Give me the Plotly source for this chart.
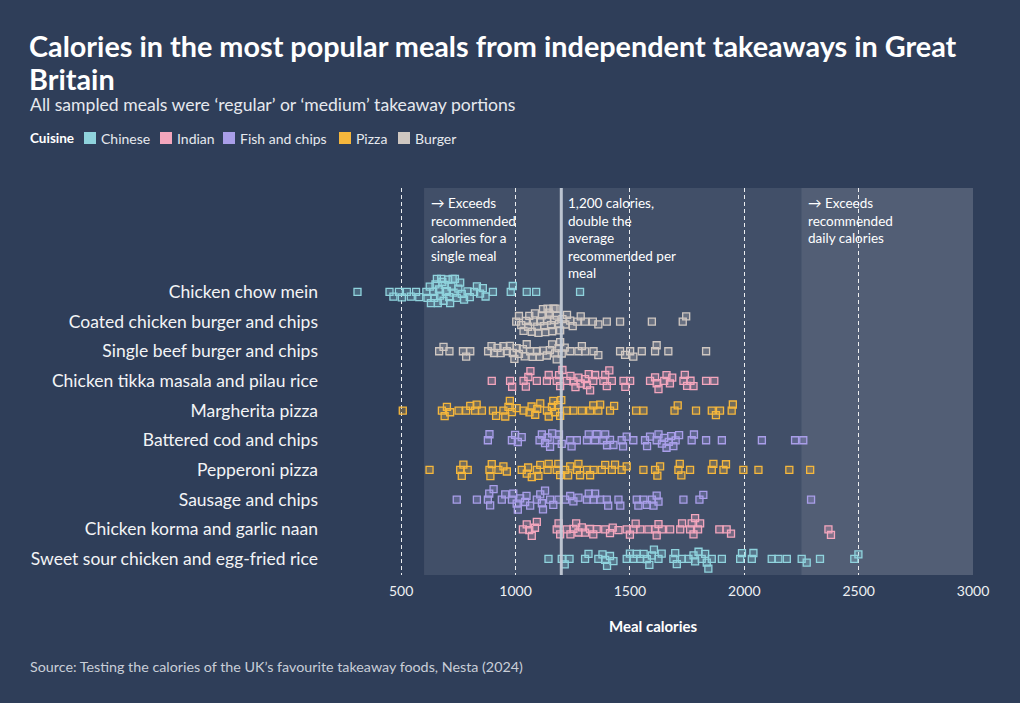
import math
import plotly.graph_objects as go

# ---------------- data ----------------
meals = [
    "Chicken chow mein",
    "Coated chicken burger and chips",
    "Single beef burger and chips",
    "Chicken tikka masala and pilau rice",
    "Margherita pizza",
    "Battered cod and chips",
    "Pepperoni pizza",
    "Sausage and chips",
    "Chicken korma and garlic naan",
    "Sweet sour chicken and egg-fried rice",
]
meal_cuisine = ["Chinese", "Burger", "Burger", "Indian", "Pizza",
                "Fish and chips", "Pizza", "Fish and chips", "Indian", "Chinese"]

cuisines = ["Chinese", "Indian", "Fish and chips", "Pizza", "Burger"]
cuisine_colors = ["#8fd3dd", "#f4a6bd", "#a99ee9", "#f6b73c", "#cfc7c1"]

chow_mein = [309, 449, 466, 490, 503, 525, 542, 565, 579, 610, 615, 625, 630, 640, 645, 650, 656,
             660, 665, 670, 675, 680, 685, 690, 695, 700, 705, 710, 714, 720, 725, 729, 735, 743,
             750, 758, 765, 775, 790, 800, 819, 831, 845, 857, 869, 901, 979, 988, 1049, 1090, 1282]
coated_burger = [1003, 1015, 1025, 1035, 1045, 1055, 1060, 1071, 1080, 1085, 1095, 1100, 1108,
                 1115, 1120, 1125, 1130, 1137, 1140, 1145, 1150, 1155, 1160, 1166, 1170, 1175,
                 1180, 1190, 1195, 1205, 1218, 1225, 1239, 1250, 1270, 1285, 1304, 1338, 1362,
                 1399, 1457, 1596, 1731, 1746]
beef_burger = [666, 685, 711, 770, 784, 802, 880, 895, 906, 921, 935, 947, 962, 975, 988, 995,
               1005, 1015, 1032, 1040, 1049, 1064, 1075, 1093, 1105, 1120, 1137, 1150, 1160, 1173,
               1180, 1188, 1195, 1202, 1215, 1239, 1275, 1290, 1304, 1341, 1362, 1457, 1479, 1501,
               1515, 1552, 1610, 1617, 1668, 1833]
tikka_masala = [896, 976, 985, 1035, 1045, 1056, 1065, 1093, 1137, 1145, 1180, 1190, 1195, 1205,
                1224, 1240, 1253, 1262, 1275, 1285, 1304, 1312, 1320, 1326, 1340, 1348, 1384,
                1392, 1399, 1410, 1421, 1472, 1480, 1501, 1588, 1610, 1617, 1625, 1650, 1660,
                1675, 1685, 1734, 1740, 1750, 1765, 1778, 1833, 1869]
margherita = [507, 678, 690, 700, 714, 751, 784, 802, 823, 830, 853, 901, 915, 947, 955, 969, 975,
              984, 1005, 1035, 1061, 1070, 1086, 1095, 1108, 1137, 1145, 1159, 1165, 1173, 1185,
              1195, 1200, 1224, 1253, 1290, 1326, 1340, 1362, 1370, 1413, 1431, 1527, 1559, 1695,
              1709, 1789, 1858, 1876, 1894, 1945, 1950]
cod_chips = [879, 886, 984, 998, 1010, 1027, 1105, 1115, 1129, 1140, 1151, 1160, 1180, 1190, 1202,
             1239, 1245, 1268, 1312, 1320, 1348, 1355, 1384, 1392, 1400, 1413, 1428, 1464, 1470,
             1486, 1515, 1566, 1575, 1588, 1617, 1625, 1640, 1650, 1660, 1670, 1680, 1690, 1700,
             1715, 1770, 1780, 1833, 1902, 2077, 2222, 2258]
pepperoni = [624, 758, 765, 772, 791, 886, 890, 896, 925, 947, 962, 1027, 1049, 1055, 1071, 1093,
             1100, 1108, 1140, 1145, 1180, 1187, 1195, 1217, 1230, 1239, 1268, 1275, 1282, 1312,
             1326, 1341, 1377, 1392, 1421, 1435, 1464, 1486, 1559, 1610, 1620, 1632, 1712, 1718,
             1725, 1763, 1858, 1865, 1909, 1920, 1996, 2062, 2197, 2288]
sausage_chips = [743, 831, 879, 885, 889, 904, 940, 955, 984, 990, 1005, 1010, 1020, 1042, 1048,
                 1064, 1093, 1108, 1115, 1120, 1129, 1151, 1165, 1188, 1217, 1239, 1253, 1275,
                 1312, 1320, 1341, 1348, 1370, 1399, 1405, 1450, 1458, 1530, 1537, 1559, 1574,
                 1596, 1603, 1617, 1625, 1734, 1804, 1821, 2292]
korma_naan = [1032, 1049, 1060, 1071, 1085, 1093, 1180, 1188, 1195, 1224, 1240, 1253, 1265, 1275,
              1290, 1304, 1326, 1340, 1355, 1392, 1413, 1425, 1450, 1486, 1500, 1515, 1525, 1545,
              1581, 1610, 1617, 1625, 1640, 1676, 1720, 1728, 1763, 1770, 1778, 1785, 1798, 1807,
              1891, 1923, 1942, 2368, 2379]
sweet_sour = [1144, 1202, 1215, 1236, 1304, 1319, 1362, 1380, 1392, 1400, 1413, 1428, 1486, 1500,
              1515, 1530, 1545, 1560, 1574, 1585, 1596, 1605, 1625, 1639, 1690, 1698, 1705, 1727,
              1756, 1778, 1785, 1800, 1814, 1829, 1836, 1843, 1858, 1902, 1982, 1990, 2033, 2040,
              2120, 2149, 2186, 2251, 2273, 2331, 2481, 2499]

meal_values = [chow_mein, coated_burger, beef_burger, tikka_masala, margherita,
               cod_chips, pepperoni, sausage_chips, korma_naan, sweet_sour]

x_ticks = [500, 1000, 1500, 2000, 2500, 3000]

title_lines = ["Calories in the most popular meals from independent takeaways in Great", "Britain"]
subtitle = "All sampled meals were ‘regular’ or ‘medium’ takeaway portions"
source = "Source: Testing the calories of the UK’s favourite takeaway foods, Nesta (2024)"

# ---------------- layout geometry ----------------
W, H = 1020, 703
ML, MR, MT, MB = 344, 47, 188, 128
X_RANGE = [250, 3000]
Y_RANGE = [9.54, -3.5]
plot_w = W - ML - MR
plot_h = H - MT - MB
px_per_cal = plot_w / (X_RANGE[1] - X_RANGE[0])
px_per_row = plot_h / (Y_RANGE[0] - Y_RANGE[1])


def swarm_offsets(vals, d=6.2, ymax=13.0):
    """Circle-packing beeswarm: vertical offsets (row units) for each value."""
    order = sorted(range(len(vals)), key=lambda i: vals[i])
    placed = []
    offs = [0.0] * len(vals)
    for n, i in enumerate(order):
        xp = vals[i] * px_per_cal
        near = [(a, b) for (a, b) in placed if abs(xp - a) < d]
        cands = [0.0]
        for (a, b) in near:
            h = math.sqrt(d * d - (xp - a) ** 2)
            cands += [b + h, b - h]
        cands.sort(key=lambda y: (abs(y), y if n % 2 else -y))
        chosen = None
        for y in cands:
            if abs(y) > ymax:
                continue
            if all((xp - a) ** 2 + (y - b) ** 2 >= d * d - 1e-6 for (a, b) in near):
                chosen = y
                break
        if chosen is None:
            best = None
            for k in range(-int(ymax), int(ymax) + 1):
                c = sum(1 for (a, b) in near if (xp - a) ** 2 + (k - b) ** 2 < d * d)
                if best is None or c < best[0]:
                    best = (c, k)
            chosen = float(best[1])
        placed.append((xp, chosen))
        offs[i] = chosen / px_per_row
    return offs


BG = "#2f3e59"
fig = go.Figure()


def rgba(hexc, a):
    h = hexc.lstrip("#")
    return "rgba(%d,%d,%d,%.2f)" % (int(h[0:2], 16), int(h[2:4], 16), int(h[4:6], 16), a)


for idx, (meal, vals) in enumerate(zip(meals, meal_values)):
    col = cuisine_colors[cuisines.index(meal_cuisine[idx])]
    offs = swarm_offsets(vals)
    fig.add_trace(go.Scatter(
        x=vals,
        y=[idx + o for o in offs],
        mode="markers",
        marker=dict(symbol="square", size=7, color=rgba(col, 0.28),
                    line=dict(color=col, width=1.3)),
        showlegend=False,
        hoverinfo="x",
        name=meal,
    ))

# shaded zones
fig.add_shape(type="rect", xref="x", yref="paper", x0=600, x1=3000, y0=0, y1=1,
              fillcolor="rgba(255,255,255,0.09)", line_width=0, layer="below")
fig.add_shape(type="rect", xref="x", yref="paper", x0=2250, x1=3000, y0=0, y1=1,
              fillcolor="rgba(255,255,255,0.09)", line_width=0, layer="below")
# 1200 line
fig.add_shape(type="line", xref="x", yref="paper", x0=1200, x1=1200, y0=0, y1=1,
              line=dict(color="rgba(195,202,214,0.95)", width=3), layer="above")

FONT = "Lato"
TXT = "#ffffff"
ann_font = dict(family=FONT, size=13.5, color=TXT)
fig.add_annotation(x=600, y=1, xref="x", yref="paper", xanchor="left", yanchor="top",
                   xshift=5, yshift=-5, align="left", showarrow=False, font=ann_font,
                   text="→ Exceeds<br>recommended<br>calories for a<br>single meal")
fig.add_annotation(x=1200, y=1, xref="x", yref="paper", xanchor="left", yanchor="top",
                   xshift=5, yshift=-5, align="left", showarrow=False, font=ann_font,
                   text="1,200 calories,<br>double the<br>average<br>recommended per<br>meal")
fig.add_annotation(x=2250, y=1, xref="x", yref="paper", xanchor="left", yanchor="top",
                   xshift=5, yshift=-5, align="left", showarrow=False, font=ann_font,
                   text="→ Exceeds<br>recommended<br>daily calories")


def pxx(px):
    return (px - ML) / plot_w


def pxy(py):
    return (H - MB - py) / plot_h


# title (two lines)
for line, cy in zip(title_lines, [46, 79]):
    fig.add_annotation(x=pxx(27), y=pxy(cy), xref="paper", yref="paper", xanchor="left",
                       yanchor="middle", showarrow=False, text="<b>%s</b>" % line,
                       font=dict(family=FONT, size=28.8, color=TXT))
# subtitle
fig.add_annotation(x=pxx(28), y=pxy(105), xref="paper", yref="paper", xanchor="left",
                   yanchor="middle", showarrow=False, text=subtitle,
                   font=dict(family=FONT, size=17.6, color="#e6e9ee"))
# legend (manual)
fig.add_annotation(x=pxx(28), y=pxy(138), xref="paper", yref="paper", xanchor="left",
                   yanchor="middle", showarrow=False, text="<b>Cuisine</b>",
                   font=dict(family=FONT, size=13.5, color=TXT))
leg_sq_x = [84, 160, 223, 339, 398]
for cz, ccol, sx in zip(cuisines, cuisine_colors, leg_sq_x):
    fig.add_shape(type="rect", xref="paper", yref="paper",
                  x0=pxx(sx), x1=pxx(sx + 12), y0=pxy(144), y1=pxy(132),
                  fillcolor=ccol, line_width=0)
    fig.add_annotation(x=pxx(sx + 15), y=pxy(138), xref="paper", yref="paper",
                       xanchor="left", yanchor="middle", showarrow=False, text=cz,
                       font=dict(family=FONT, size=14, color="#e6e9ee"))
# axis title
fig.add_annotation(x=pxx(653), y=pxy(626), xref="paper", yref="paper", xanchor="center",
                   yanchor="middle", showarrow=False, text="<b>Meal calories</b>",
                   font=dict(family=FONT, size=15, color=TXT))
# source
fig.add_annotation(x=pxx(28), y=pxy(666), xref="paper", yref="paper", xanchor="left",
                   yanchor="middle", showarrow=False, text=source,
                   font=dict(family=FONT, size=14.3, color="#c9ced8"))

fig.update_layout(
    width=W, height=H,
    margin=dict(l=ML, r=MR, t=MT, b=MB, pad=0),
    paper_bgcolor=BG, plot_bgcolor=BG,
    xaxis=dict(range=X_RANGE, tickvals=x_ticks, ticktext=[str(v) for v in x_ticks],
               showgrid=True, gridcolor="rgba(255,255,255,0.9)", gridwidth=1,
               griddash="4px,3px", zeroline=False, showline=False, ticks="",
               ticklabelstandoff=6,
               tickfont=dict(family=FONT, size=14, color="#eef0f3")),
    yaxis=dict(range=Y_RANGE, tickvals=list(range(len(meals))), ticktext=meals,
               showgrid=False, zeroline=False, showline=False, ticks="",
               ticklabelstandoff=25,
               tickfont=dict(family=FONT, size=17.5, color="#f3f4f6")),
)

fig.write_html("out.html")
